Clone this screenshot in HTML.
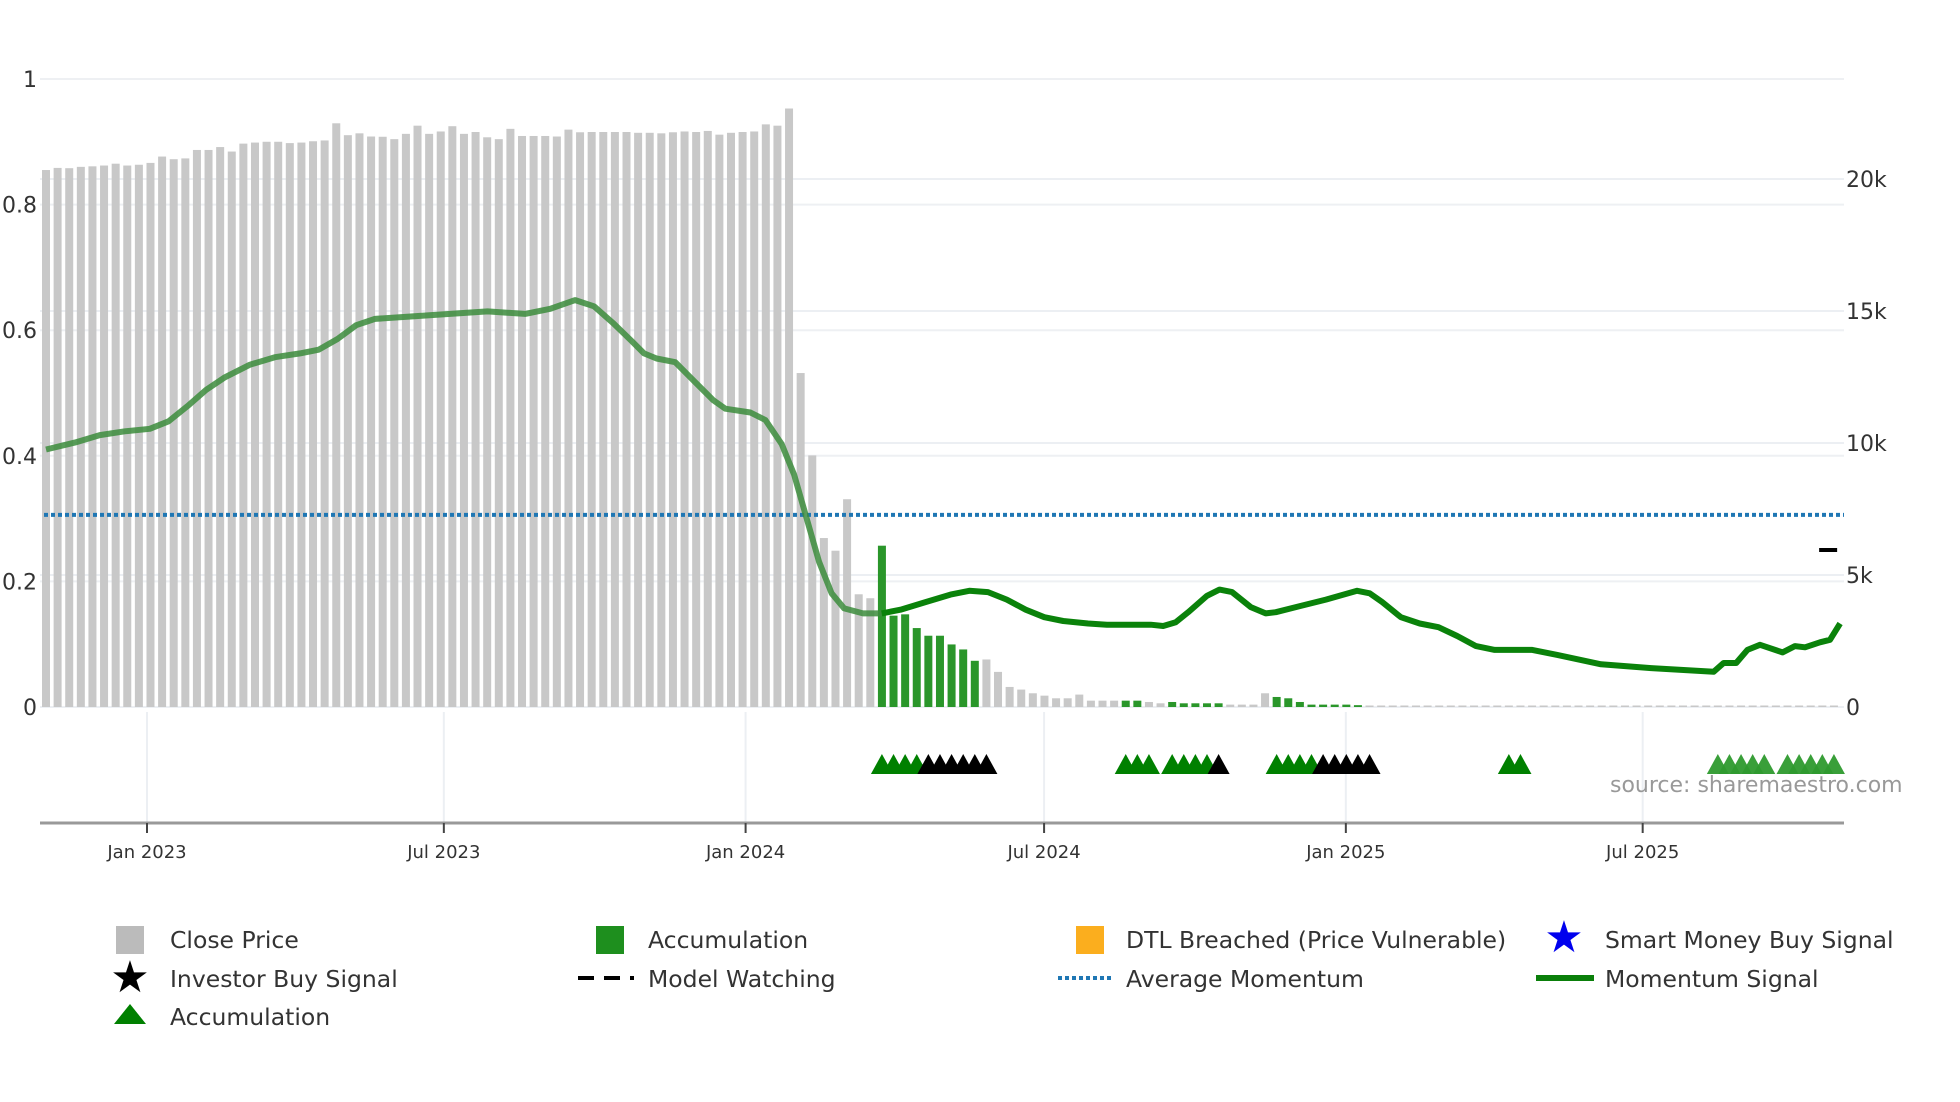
<!DOCTYPE html>
<html><head><meta charset="utf-8">
<style>
html,body{margin:0;padding:0;background:#fff;}
svg{display:block;font-family:"DejaVu Sans","Liberation Sans",sans-serif;}
</style></head>
<body>
<svg id="chart" width="1960" height="1102" viewBox="0 0 1960 1102" xmlns="http://www.w3.org/2000/svg">
<g id="grid"></g>
<g id="bars"></g>
<g id="lines"></g>
<g id="signals"></g>
<g id="axes"></g>
<text x="1610" y="792" font-size="22" fill="#999">source: sharemaestro.com</text>
<g id="legend" font-size="23.5" fill="#333">
  <g><rect x="116" y="926" width="28" height="28" fill="#bbb"/><text x="170" y="948">Close Price</text></g>
  <g><rect x="596" y="926" width="28" height="28" fill="#1e8f1e"/><text x="648" y="948">Accumulation</text></g>
  <g><rect x="1076" y="926" width="28" height="28" fill="#fbae1e"/><text x="1126" y="948">DTL Breached (Price Vulnerable)</text></g>
  <g><text x="1564" y="952" font-size="44" fill="#0000ee" text-anchor="middle">★</text><text x="1605" y="948">Smart Money Buy Signal</text></g>
  <g><text x="130" y="992" font-size="44" fill="#000" text-anchor="middle">★</text><text x="170" y="987">Investor Buy Signal</text></g>
  <g><line x1="578" y1="978" x2="634" y2="978" stroke="#000" stroke-width="4" stroke-dasharray="16,10"/><text x="648" y="987">Model Watching</text></g>
  <g><line x1="1058" y1="978" x2="1112" y2="978" stroke="#1f77b4" stroke-width="4" stroke-dasharray="4,3"/><text x="1126" y="987">Average Momentum</text></g>
  <g><line x1="1536" y1="978" x2="1594" y2="978" stroke="#0a7f0a" stroke-width="6"/><text x="1605" y="987">Momentum Signal</text></g>
  <g><polygon points="130,1004 146,1024 114,1024" fill="#008000"/><text x="170" y="1025">Accumulation</text></g>
</g>
</svg>
<script>
// ---- data ----
const closePrice = [20.34,20.42,20.41,20.46,20.48,20.51,20.58,20.51,20.54,20.61,20.85,20.75,20.78,21.10,21.10,21.21,21.04,21.34,21.38,21.41,21.41,21.36,21.38,21.43,21.46,22.11,21.66,21.73,21.61,21.60,21.51,21.71,22.02,21.71,21.80,22.00,21.71,21.78,21.58,21.51,21.90,21.63,21.63,21.63,21.61,21.87,21.77,21.78,21.78,21.78,21.78,21.75,21.75,21.73,21.77,21.80,21.78,21.82,21.68,21.75,21.78,21.80,22.07,22.02,22.67,
12.65,9.53,6.40,5.92,7.87,4.27,4.12,6.11,3.46,3.51,2.99,2.70,2.70,2.37,2.18,1.75,1.80,1.33,0.76,0.66,0.52,0.43,0.33,0.33,0.47,0.24,0.24,0.24,0.24,0.24,0.19,0.14,0.19,0.14,0.14,0.14,0.14,0.09,0.09,0.09,0.52,0.38,0.33,0.19,0.09,0.09,0.09,0.09,0.07,
0.02,0.02,0.02,0.02,0.02,0.02,0.02,0.02,0.02,0.02,0.02,0.02,0.02,0.02,0.02,0.02,0.02,0.02,0.02,0.02,0.02,0.02,0.02,0.02,0.02,0.02,0.02,0.02,0.02,0.02,0.02,0.02,0.02,0.02,0.02,0.02,0.02,0.02,0.02,0.02,0.02];
const accumBars = [72,73,74,75,76,77,78,79,80,93,94,97,98,99,100,101,106,107,108,109,110,111,112,113];
const momIdx = [0,2.48,4.63,6.79,8.94,10.56,12.18,13.79,15.41,17.56,19.72,21.88,23.49,25.11,26.72,28.34,31.57,34.8,38.04,41.27,43.43,45.58,47.2,48.81,50.43,51.51,52.59,54.2,55.82,57.44,58.51,60.67,61.96,63.36,64.44,65.52,66.59,67.67,68.75,70.37,71.98,73.6,75.75,77.91,79.53,81.14,82.76,84.38,85.99,87.61,89.76,91.38,95.15,96.23,97.31,98.38,100.0,101.08,102.16,103.77,105.06,105.93,108.08,110.24,112.93,114.01,115.09,116.7,118.32,119.94,121.55,123.17,124.78,128.02,130.17,133.94,138.25,143.64,144.5,145.58,146.55,147.63,149.57,150.65,151.51,152.8,153.66,154.53];
const momVal = [.410,.421,.433,.439,.443,.455,.479,.505,.525,.545,.557,.563,.569,.586,.608,.618,.622,.626,.630,.626,.634,.648,.638,.612,.583,.563,.555,.549,.519,.489,.475,.469,.457,.419,.370,.300,.231,.181,.157,.149,.149,.155,.167,.179,.185,.183,.171,.155,.143,.137,.133,.131,.131,.129,.135,.151,.177,.187,.183,.159,.149,.151,.161,.171,.185,.181,.167,.143,.133,.127,.113,.097,.091,.091,.083,.068,.062,.056,.070,.070,.091,.099,.087,.097,.095,.103,.107,.133];
const avgMomentum = 0.306;
const accumTri = [72,73,74,75,93,94,95,97,98,99,100,106,107,108,109,126,127];
const accumTriLight = [144,145,146,147,148,150,151,152,153,154];
const investorTri = [76,77,78,79,80,81,101,110,111,112,113,114];
const modelWatching = [{idx:153.5, val:0.25}];
const leftTicks = [0,0.2,0.4,0.6,0.8,1];
const leftTickLabels = ["0","0.2","0.4","0.6","0.8","1"];
const rightTicks = [0,5,10,15,20];
const rightTickLabels = ["0","5k","10k","15k","20k"];
const dateTickDays = [0,181,365,547,731,912];
const dateTickLabels = ["Jan 2023","Jul 2023","Jan 2024","Jul 2024","Jan 2025","Jul 2025"];

// ---- scales ----
const X0=147, PXDAY=1.640, Y0=707, LUNIT=628, RK=26.4, BAR0=46, BARSTEP=11.61;
const xDay = d => X0 + d*PXDAY;
const xIdx = i => BAR0 + i*BARSTEP;
const yL = v => Y0 - v*LUNIT;
const yR = k => Y0 - k*RK;
const NS="http://www.w3.org/2000/svg";
function mk(tag, attrs, parent){const e=document.createElementNS(NS,tag);for(const k in attrs)e.setAttribute(k,attrs[k]);parent.appendChild(e);return e;}
const grid=document.getElementById('grid'),bars=document.getElementById('bars'),lines=document.getElementById('lines'),sig=document.getElementById('signals'),axes=document.getElementById('axes');

// grid
leftTicks.forEach(v=>{const l=mk('line',{x1:40,x2:1844,y1:yL(v),y2:yL(v),stroke:'#eef0f3','stroke-width':2},grid);

});
rightTicks.forEach(k=>{const l=mk('line',{x1:40,x2:1844,y1:yR(k),y2:yR(k),stroke:'#eceff3','stroke-width':2},grid);

});
dateTickDays.forEach(d=>{const l=mk('line',{x1:xDay(d),x2:xDay(d),y1:712,y2:823,stroke:'#eceff3','stroke-width':2},grid);

});

// bars
closePrice.forEach((v,i)=>{const acc=accumBars.includes(i);const h=Math.max(v*RK,1.5);
const r=mk('rect',{x:xIdx(i)-4,y:Y0-h,width:8,height:h,fill:acc?'#2a962a':'#c8c8c8'},bars);

});

// avg momentum
const am=mk('line',{x1:44,x2:1844,y1:yL(avgMomentum),y2:yL(avgMomentum),stroke:'#1f77b4','stroke-width':4,'stroke-dasharray':'4,3'},lines);



// momentum line (two segments)
let p1='',p2='';
momIdx.forEach((ix,j)=>{const pt=xIdx(ix).toFixed(1)+','+yL(momVal[j]).toFixed(1)+' ';if(ix<=72)p1+=pt;if(ix>=71.9)p2+=pt;});
const m1=mk('polyline',{points:p1,fill:'none',stroke:'#3c8c3c','stroke-opacity':0.85,'stroke-width':6,'stroke-linejoin':'round'},lines);


const m2=mk('polyline',{points:p2,fill:'none',stroke:'#0a820a','stroke-width':6,'stroke-linejoin':'round'},lines);



// model watching
modelWatching.forEach(m=>{const l=mk('line',{x1:xIdx(m.idx)-9,x2:xIdx(m.idx)+9,y1:yL(m.val),y2:yL(m.val),stroke:'#000','stroke-width':4},lines);

});

// triangles
const TY=764;
function tri(i,color,name,op){const x=xIdx(i);const t=mk('polygon',{points:`${x},${TY-10} ${x+11},${TY+10} ${x-11},${TY+10}`,fill:color,'fill-opacity':op},sig);

}
accumTri.forEach(i=>tri(i,'#008000','accumulation-triangle',1));
accumTriLight.forEach(i=>tri(i,'#2e9a2e','accumulation-triangle',0.95));
investorTri.forEach(i=>tri(i,'#000','investor-buy-triangle',1));

// axes
const ax=mk('line',{x1:40,x2:1844,y1:823,y2:823,stroke:'#999','stroke-width':3},axes);


dateTickDays.forEach((d,j)=>{const tk=mk('line',{x1:xDay(d),x2:xDay(d),y1:823,y2:833,stroke:'#444','stroke-width':2},axes);


const t=mk('text',{x:xDay(d),y:858,'font-size':18,fill:'#333','text-anchor':'middle'},axes);t.textContent=dateTickLabels[j];

});
leftTicks.forEach((v,j)=>{const t=mk('text',{x:37,y:yL(v)+8,'font-size':22,fill:'#333','text-anchor':'end'},axes);t.textContent=leftTickLabels[j];

});
rightTicks.forEach((k,j)=>{const t=mk('text',{x:1846,y:yR(k)+8,'font-size':22,fill:'#333'},axes);t.textContent=rightTickLabels[j];

});
</script>
</body></html>
